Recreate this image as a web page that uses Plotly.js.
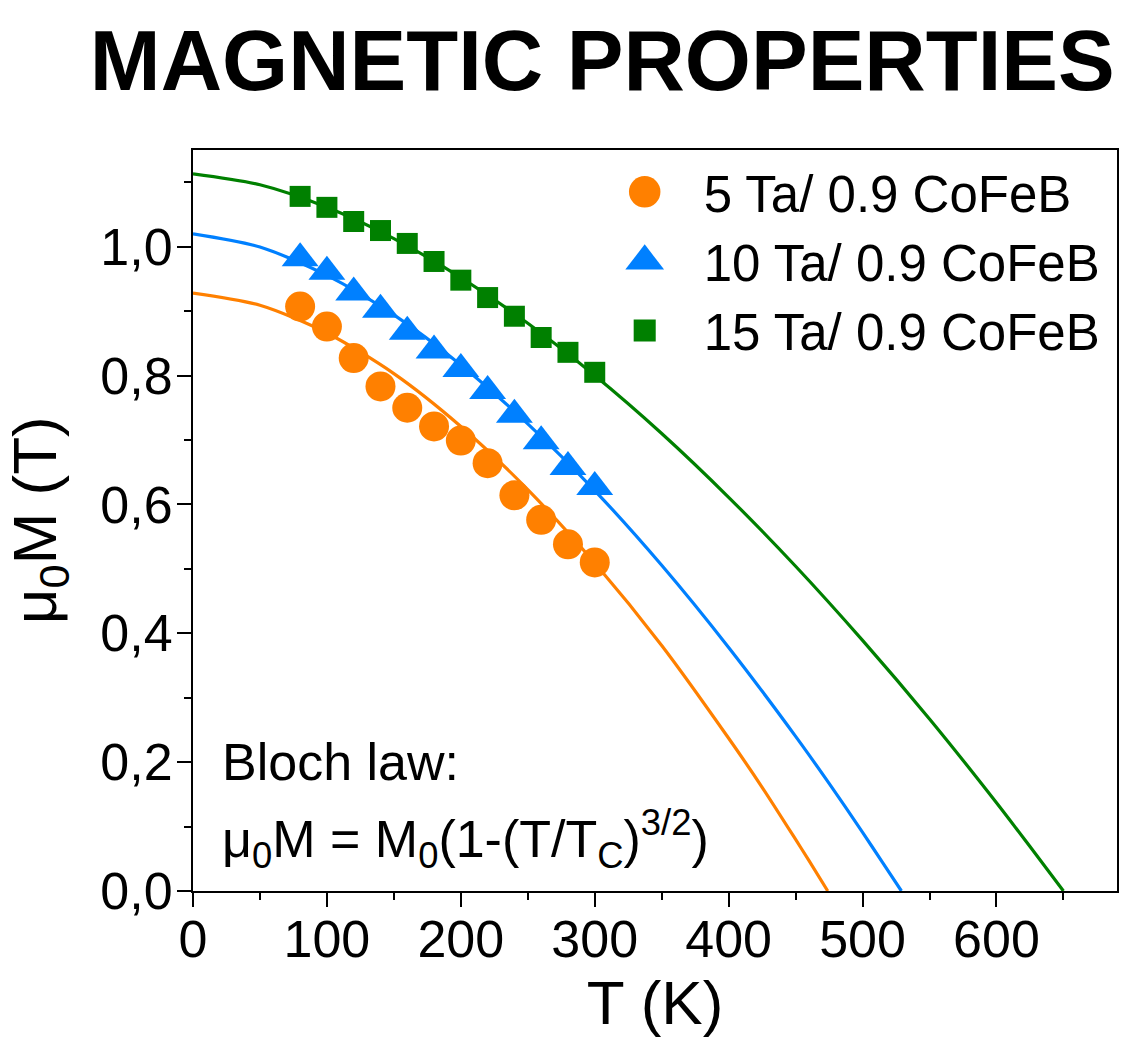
<!DOCTYPE html>
<html>
<head>
<meta charset="utf-8">
<script src="https://cdn.plot.ly/plotly-3.0.1.min.js"></script>
<style>html,body{margin:0;padding:0;background:#fff;}#chart{width:1145px;height:1037px;}</style>
</head>
<body>
<div id="chart"></div>
<script>
// Measured data (temperature in K, magnetisation in T)
const temps = [80, 100, 120, 140, 160, 180, 200, 220, 240, 260, 280, 300];
const m5Ta = [0.907, 0.876, 0.827, 0.783, 0.750, 0.721, 0.699, 0.664, 0.614, 0.576, 0.538, 0.510];
const m10Ta = [0.982, 0.961, 0.929, 0.902, 0.868, 0.839, 0.810, 0.776, 0.739, 0.698, 0.658, 0.627];
const m15Ta = [1.078, 1.061, 1.039, 1.025, 1.005, 0.977, 0.948, 0.921, 0.892, 0.859, 0.836, 0.805];

// Fit curves
const fitT5 = [0, 50, 100, 150, 200, 250, 300, 350, 400, 425, 450, 460, 474];
const fitM5 = [0.928, 0.909, 0.866, 0.803, 0.721, 0.623, 0.509, 0.381, 0.237, 0.161, 0.080, 0.047, 0];
const fitT10 = [0, 50, 100, 150, 200, 250, 300, 350, 400, 450, 475, 500, 515, 529];
const fitM10 = [1.020, 0.9995, 0.9555, 0.894, 0.8165, 0.725, 0.6215, 0.5055, 0.378, 0.240, 0.167, 0.091, 0.044, 0];
const fitT15 = [0, 50, 100, 150, 200, 250, 300, 350, 400, 450, 500, 550, 600, 625, 650];
const fitM15 = [1.113, 1.096, 1.061, 1.0125, 0.952, 0.881, 0.800, 0.710, 0.611, 0.504, 0.389, 0.267, 0.137, 0.069, 0];

const seriesNames = ['5 Ta/ 0.9 CoFeB', '10 Ta/ 0.9 CoFeB', '15 Ta/ 0.9 CoFeB'];
const colors = ['#FF8000', '#0080FF', '#008000'];

const FONT = 'Liberation Sans, Arial, sans-serif';

function fitTrace(x, y, c) {
  return {x: x, y: y, type: 'scatter', mode: 'lines', showlegend: false, hoverinfo: 'skip',
    line: {color: c, width: 3.2, shape: 'spline', smoothing: 0.8}};
}
function dataTrace(y, name, c, sym, size) {
  return {x: temps, y: y, type: 'scatter', mode: 'markers', name: name,
    marker: {color: c, symbol: sym, size: size, line: {width: 0}}};
}

const markerSizes = [30, 32, 21];
const traces = [
  fitTrace(fitT5, fitM5, colors[0]),
  fitTrace(fitT10, fitM10, colors[1]),
  fitTrace(fitT15, fitM15, colors[2]),
  dataTrace(m5Ta, seriesNames[0], colors[0], 'circle', markerSizes[0]),
  dataTrace(m10Ta, seriesNames[1], colors[1], 'triangle-up', markerSizes[1]),
  dataTrace(m15Ta, seriesNames[2], colors[2], 'square', markerSizes[2])
];

const axisCommon = {
  showgrid: false, zeroline: false, showline: true, linecolor: '#000', linewidth: 2,
  mirror: true, ticks: 'outside', ticklen: 14, tickwidth: 2, tickcolor: '#000',
  tickfont: {family: FONT, size: 52, color: '#000'}
};

const layout = {
  width: 1145, height: 1037,
  margin: {l: 193, r: 28, t: 150, b: 146},
  paper_bgcolor: '#fff', plot_bgcolor: '#fff',
  separators: ',.',
  font: {family: FONT, color: '#000'},
  title: {text: '<b>MAGNETIC PROPERTIES</b>', font: {family: FONT, size: 85, color: '#000'},
    x: 0.526, xanchor: 'center', xref: 'container', y: 0.942, yanchor: 'middle', yref: 'container'},
  xaxis: Object.assign({}, axisCommon, {
    range: [0, 690], dtick: 100, tick0: 0, ticklabelstandoff: -12,
    minor: {dtick: 50, ticks: 'outside', ticklen: 7, tickwidth: 2, tickcolor: '#000'},
    title: {text: 'T (K)', font: {family: FONT, size: 62, color: '#000'}}
  }),
  yaxis: Object.assign({}, axisCommon, {
    range: [0, 1.15], dtick: 0.2, tick0: 0, tickformat: '.1f', ticklabelstandoff: -6,
    minor: {dtick: 0.1, ticks: 'outside', ticklen: 7, tickwidth: 2, tickcolor: '#000'},
    title: {text: ''}
  }),
  legend: {x: 0.425, y: 0.997, xanchor: 'left', yanchor: 'top', bgcolor: 'rgba(0,0,0,0)',
    font: {family: FONT, size: 51, color: '#000'}, itemwidth: 108, borderwidth: 0},
  annotations: [
    {xref: 'paper', yref: 'paper', x: -0.167, y: 0.5, xanchor: 'center', yanchor: 'middle', showarrow: false,
      textangle: -90, text: 'μ<sub>0</sub>M (T)', font: {family: FONT, size: 62, color: '#000'}},
    {xref: 'paper', yref: 'paper', x: 0.029, y: 0.174, xanchor: 'left', yanchor: 'middle', showarrow: false,
      text: 'Bloch law:', font: {family: FONT, size: 52, color: '#000'}},
    {xref: 'paper', yref: 'paper', x: 0.029, y: 0.07, xanchor: 'left', yanchor: 'middle', showarrow: false,
      text: 'μ<sub>0</sub>M = M<sub>0</sub>(1-(T/T<sub>C</sub>)<sup>3/2</sup>)', font: {family: FONT, size: 52, color: '#000'}}
  ]
};

Plotly.newPlot('chart', traces, layout, {displayModeBar: false, staticPlot: true}).then(function (gd) {
  const groups = gd.querySelectorAll('.legend .traces');
  groups.forEach(function (g, i) {
    const k = (markerSizes[i] || 16) / 16 * 1.05;
    g.querySelectorAll('.legendpoints path.scatterpts').forEach(function (p) {
      const t = p.getAttribute('transform') || '';
      p.setAttribute('transform', t + ' scale(' + k + ')');
    });
  });
});
</script>
</body>
</html>
